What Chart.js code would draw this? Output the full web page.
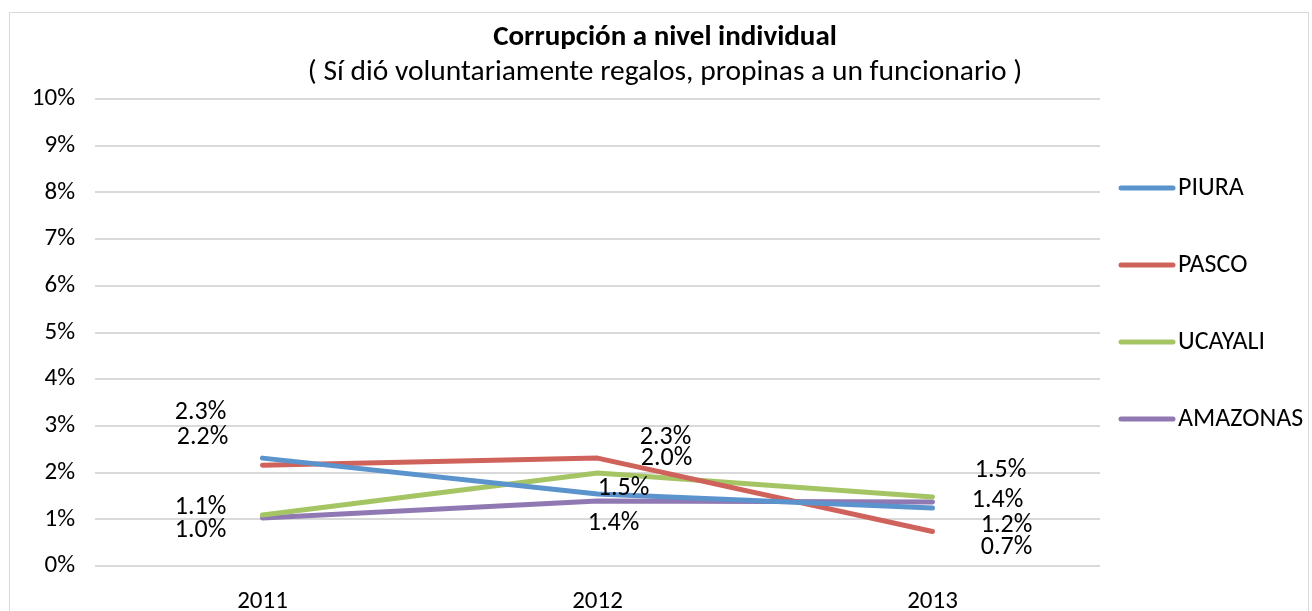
<!DOCTYPE html>
<html>
<head>
<meta charset="utf-8">
<script src="https://cdn.jsdelivr.net/npm/chart.js@4"></script>
<style>
  html, body { margin: 0; padding: 0; background: #fff; }
  #wrap { position: relative; width: 1312px; height: 611px; }
  #frame { position: absolute; left: 9px; top: 12px; width: 1300px; height: 620px; border: 1px solid #d9d9d9; box-sizing: border-box; }
  canvas { position: absolute; left: 0; top: 0; }
</style>
</head>
<body>
<div id="wrap">
  <div id="frame"></div>
  <canvas id="myChart" width="1312" height="611"></canvas>
</div>
<script>
var years = ["2011", "2012", "2013"];
var piura = [2.31, 1.54, 1.24];
var pasco = [2.16, 2.31, 0.74];
var ucayali = [1.09, 1.99, 1.48];
var amazonas = [1.03, 1.39, 1.37];
var yTicks = [0, 1, 2, 3, 4, 5, 6, 7, 8, 9, 10];

var FONT = "Carlito, Lato, 'Liberation Sans', sans-serif";

// where each value label sits relative to its point (dx, dy), as Excel placed them
var labelOffsets = [
  [[-62, -46], [26, -6], [74, 17]],
  [[-60, -28], [68, -21], [74, 16]],
  [[-62, -8], [69, -15], [68, -26]],
  [[-62, 13], [16, 22], [65, -2]]
];

var datos = {
  labels: years,
  datasets: [
    { label: "PIURA", data: piura, borderColor: "#5b93cc" },
    { label: "PASCO", data: pasco, borderColor: "#d0625c" },
    { label: "UCAYALI", data: ucayali, borderColor: "#a5c565" },
    { label: "AMAZONAS", data: amazonas, borderColor: "#9079b2" }
  ]
};
datos.datasets.forEach(function (ds) {
  ds.borderWidth = 5;
  ds.pointRadius = 0;
  ds.tension = 0;
  ds.borderCapStyle = "round";
  ds.borderJoinStyle = "round";
  ds.fill = false;
});

var extras = {
  id: "extras",
  afterDatasetsDraw: function (chart) {
    var ctx = chart.ctx;
    ctx.save();
    // titles
    ctx.fillStyle = "#000";
    ctx.textAlign = "center";
    ctx.textBaseline = "middle";
    ctx.font = "bold 29px " + FONT;
    ctx.fillText("Corrupción a nivel individual", 665, 38);
    ctx.font = "29.5px " + FONT;
    ctx.fillText("( Sí dió voluntariamente regalos, propinas a un funcionario )", 665, 73);

    // value labels
    ctx.font = "26px " + FONT;
    chart.data.datasets.forEach(function (ds, i) {
      var meta = chart.getDatasetMeta(i);
      meta.data.forEach(function (pt, j) {
        var off = labelOffsets[i][j];
        ctx.fillText(ds.data[j].toFixed(1) + "%", pt.x + off[0], pt.y + off[1]);
      });
    });

    // legend
    ctx.textAlign = "left";
    ctx.lineCap = "round";
    chart.data.datasets.forEach(function (ds, i) {
      var y = 188 + i * 77;
      ctx.strokeStyle = ds.borderColor;
      ctx.lineWidth = 5;
      ctx.beginPath();
      ctx.moveTo(1121, y);
      ctx.lineTo(1173, y);
      ctx.stroke();
      ctx.fillText(ds.label, 1178, y);
    });
    ctx.restore();
  }
};

new Chart(document.getElementById("myChart").getContext("2d"), {
  type: "line",
  data: datos,
  plugins: [extras],
  options: {
    responsive: false,
    animation: false,
    layout: { padding: { top: 99, right: 212, left: 0, bottom: 0 } },
    plugins: { legend: { display: false }, tooltip: { enabled: false } },
    scales: {
      x: {
        offset: true,
        grid: { display: false },
        border: { display: false },
        ticks: { color: "#000", font: { family: FONT, size: 25 }, padding: 13 },
        afterFit: function (s) { s.height = 45; }
      },
      y: {
        min: 0,
        max: 10,
        afterBuildTicks: function (s) { s.ticks = yTicks.map(function (v) { return { value: v }; }); },
        afterFit: function (s) { s.width = 95; },
        grid: { color: "#d9d9d9", lineWidth: 2, drawTicks: false },
        border: { display: false },
        ticks: {
          color: "#000",
          font: { family: FONT, size: 25 },
          padding: 20,
          callback: function (v) { return v + "%"; }
        }
      }
    }
  }
});
</script>
</body>
</html>
